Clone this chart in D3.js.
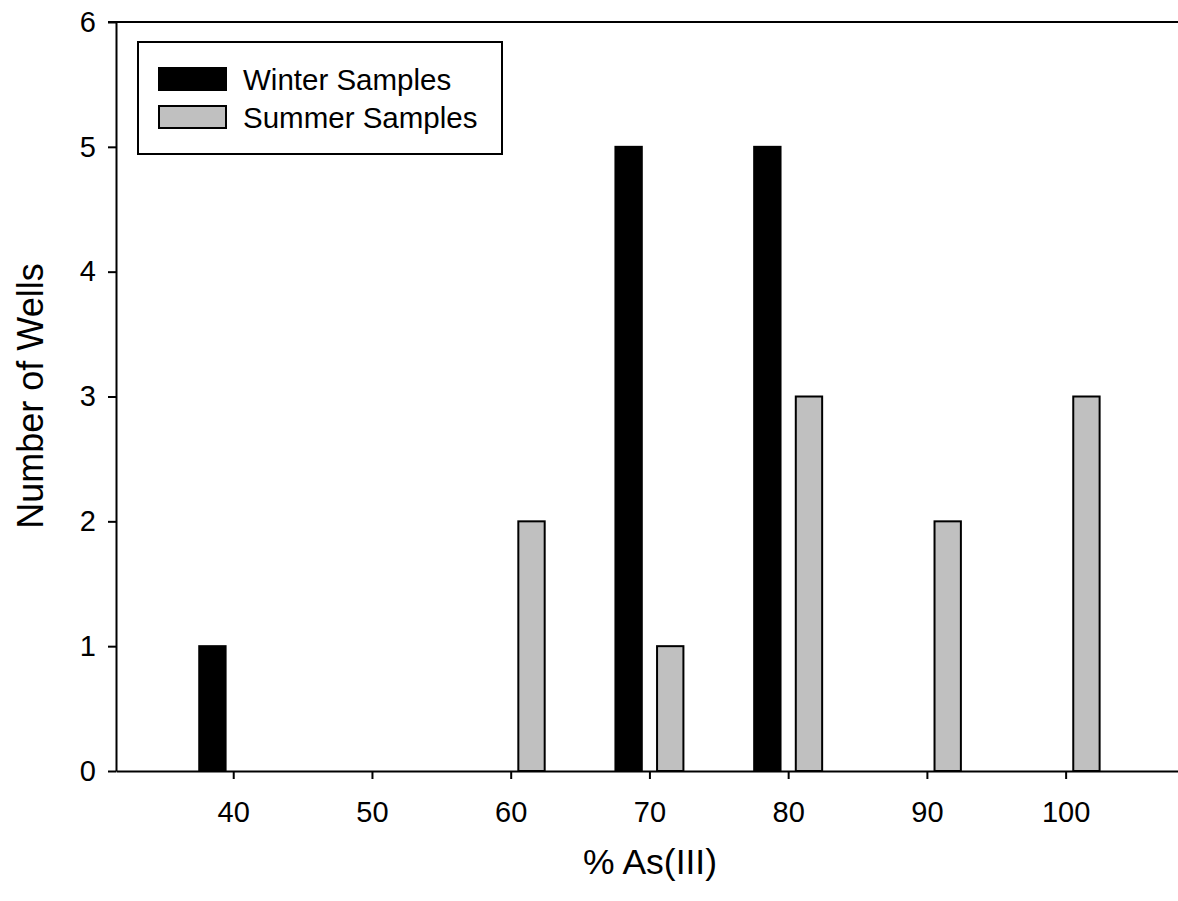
<!DOCTYPE html>
<html>
<head>
<meta charset="utf-8">
<script src="https://cdn.jsdelivr.net/npm/d3@7"></script>
<style>
  html, body { margin: 0; padding: 0; background: #fff; }
  svg { display: block; }
  text { font-family: "Liberation Sans", Arial, sans-serif; fill: #000; }
</style>
</head>
<body>
<svg id="chart" width="1178" height="901"></svg>
<script>
// ---- data ----
const bins = [40, 50, 60, 70, 80, 90, 100];
const winter = [1, 0, 0, 5, 5, 0, 0];
const summer = [0, 0, 2, 1, 3, 2, 3];
const xTicks = [40, 50, 60, 70, 80, 90, 100];
const yTicks = [0, 1, 2, 3, 4, 5, 6];
const seriesNames = ["Winter Samples", "Summer Samples"];

(function () {
const svg = d3.select("#chart");
const mLeft = 116, mRight = 1178, mTop = 22, mBottom = 771;

const x = d3.scaleLinear().domain([31.55, 108.1]).range([mLeft, mRight]);
const y = d3.scaleLinear().domain([0, 6]).range([mBottom, mTop]);

const offset = 1.5, barW = 1.9;
const colors = ["#000000", "#c0c0c0"];

const series = [winter, summer];
series.forEach((vals, si) => {
  const data = bins.map((b, i) => ({ b, v: vals[i] })).filter(d => d.v > 0);
  svg.append("g").selectAll("rect").data(data).join("rect")
    .attr("x", d => x(d.b + (si === 0 ? -offset : offset) - barW / 2))
    .attr("width", d => x(d.b + barW / 2) - x(d.b - barW / 2))
    .attr("y", d => y(d.v))
    .attr("height", d => y(0) - y(d.v))
    .attr("fill", colors[si])
    .attr("stroke", "#000")
    .attr("stroke-width", 2);
});

// axes
const xAxis = svg.append("g").attr("transform", `translate(0,${mBottom})`)
  .call(d3.axisBottom(x).tickValues(xTicks).tickFormat(d3.format("d"))
    .tickSize(8).tickPadding(22).tickSizeOuter(0));
const yAxis = svg.append("g").attr("transform", `translate(${mLeft},0)`)
  .call(d3.axisLeft(y).tickValues(yTicks).tickFormat(d3.format("d"))
    .tickSize(8).tickPadding(12).tickSizeOuter(0));
[xAxis, yAxis].forEach(a => {
  a.select(".domain").attr("stroke", "#000").attr("stroke-width", 2);
  a.selectAll(".tick line").attr("stroke", "#000").attr("stroke-width", 2);
  a.selectAll(".tick text").style("font-size", "29px").attr("fill", "#000")
    .style("font-family", "'Liberation Sans', Arial, sans-serif");
});
// top frame line
svg.append("line").attr("x1", mLeft - 8).attr("x2", mRight)
  .attr("y1", mTop).attr("y2", mTop).attr("stroke", "#000").attr("stroke-width", 2);

// axis titles
svg.append("text").attr("x", 650).attr("y", 874).attr("text-anchor", "middle")
  .style("font-size", "35.5px").text("% As(III)");
svg.append("text").attr("transform", "translate(43,396) rotate(-90)")
  .attr("text-anchor", "middle").style("font-size", "36px").text("Number of Wells");

// legend
const lg = svg.append("g");
lg.append("rect").attr("x", 138).attr("y", 42).attr("width", 364).attr("height", 112)
  .attr("fill", "#fff").attr("stroke", "#000").attr("stroke-width", 2);
seriesNames.forEach((name, i) => {
  const yy = 68 + i * 38;
  lg.append("rect").attr("x", 159).attr("y", yy).attr("width", 67).attr("height", 22)
    .attr("fill", colors[i]).attr("stroke", "#000").attr("stroke-width", 2);
  lg.append("text").attr("x", 243).attr("y", yy + 22).style("font-size", "29.5px").text(name);
});
})();
</script>
</body>
</html>
